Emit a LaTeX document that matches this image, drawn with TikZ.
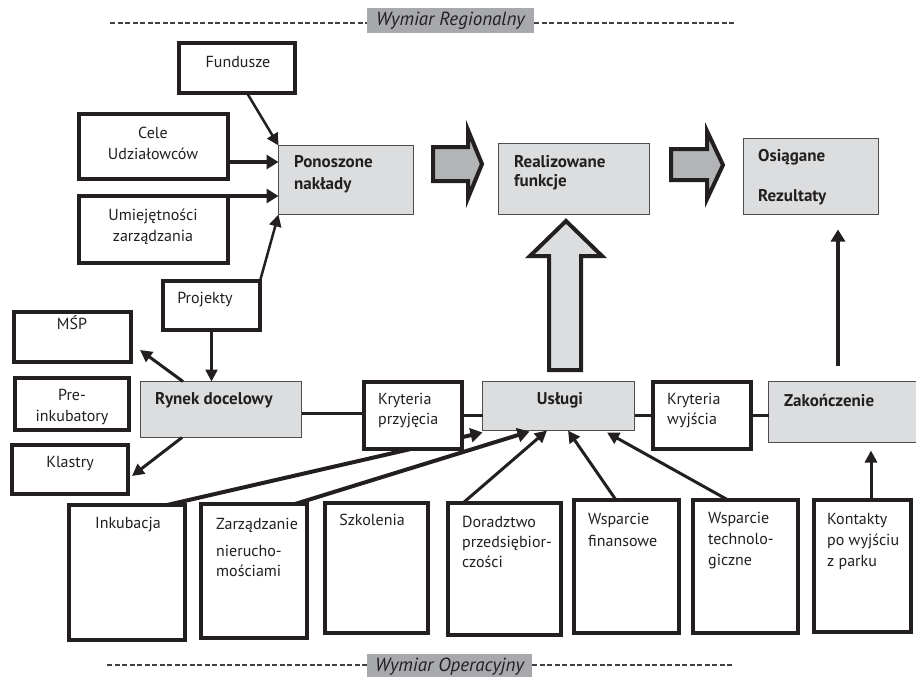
\documentclass[tikz,border=0pt]{standalone}
\usepackage{fontspec}
\setmainfont{PT Sans}
\usetikzlibrary{arrows.meta,calc}
\pgfdeclarelayer{back}
\pgfsetlayers{back,main}

\definecolor{ink}{HTML}{231F20}
\definecolor{boxgray}{HTML}{DCDDDE}
\definecolor{edgegray}{HTML}{4D4D4F}
\definecolor{arrowgray}{HTML}{B3B4B6}
\definecolor{labelgray}{HTML}{A7A9AC}
\definecolor{dashgray}{HTML}{414042}

% white box with heavy frame: outer corners (x1,y1)-(x2,y2)
\newcommand\wbx[5]{\node[wbox, minimum width={#3-#1-4}, minimum height={#4-#2-4}] (#5) at ({(#1+#3)/2},{(#2+#4)/2}) {};}
% grey box with thin frame
\newcommand\gbx[5]{\node[gbox, minimum width={#3-#1-1}, minimum height={#4-#2-1}] (#5) at ({(#1+#3)/2},{(#2+#4)/2}) {};}

\begin{document}
\begin{tikzpicture}[x=1pt,y=-1pt,
  wbox/.style={draw=ink, line width=4pt, fill=white, inner sep=0pt, outer sep=0pt},
  gbox/.style={draw=edgegray, line width=1.3pt, fill=boxgray, inner sep=0pt, outer sep=0pt},
  txt/.style={inner sep=0pt, text=ink, font=\fontsize{16}{21}\selectfont},
  btxt/.style={inner sep=0pt, text=ink, font=\bfseries\fontsize{17}{22}\selectfont},
  arr/.style={draw=ink, line width=2.5pt, -{Triangle[length=12pt,width=12pt]}},
  heavyarr/.style={draw=ink, line width=4.5pt, -{Triangle[length=12pt,width=14pt]}},
  link/.style={draw=ink, line width=3.5pt},
  blockarrow/.style={draw=ink, line width=4pt, line join=miter},
  rule/.style={draw=dashgray, line width=1.4pt, dash pattern=on 5pt off 2.5pt},
  dimlabel/.style={fill=labelgray, text=ink, inner xsep=9pt, inner ysep=4pt,
    font=\itshape\fontsize{19}{21}\selectfont}]
\useasboundingbox (0,0) rectangle (916,677);

% ---- dimension labels ----
\node[dimlabel, minimum width=167pt, minimum height=25pt] (reg) at (450.5,20.5) {Wymiar Regionalny};
\coordinate (regL) at (110,23);
\coordinate (regR) at (734,23);
\draw[rule] (regL) -- (regL -| reg.west);
\draw[rule] (reg.east |- regR) -- (regR);

\node[dimlabel, inner xsep=0pt, minimum width=165pt, minimum height=24pt] (ope) at (449.5,667) {Wymiar Operacyjny};
\coordinate (opeL) at (107,665);
\coordinate (opeR) at (734,665);
\draw[rule] (opeL) -- (opeL -| ope.west);
\draw[rule] (ope.east |- opeR) -- (opeR);

% ---- regional level ----
\wbx{177}{41}{297}{95}{fun}
\wbx{77}{112}{230}{181}{cel}
\wbx{77}{194}{230}{265}{umi}
\gbx{278}{145}{414}{215}{pon}
\wbx{161}{279}{262}{332}{pro}
\gbx{498}{143}{650}{215}{rea}
\gbx{743}{138}{879}{215}{osi}

% ---- market and services ----
\wbx{12}{310}{133}{364}{msp}
\wbx{13}{376}{131}{432}{pre}
\wbx{10}{443}{130}{496}{kla}
\gbx{140}{381}{302}{438}{ryn}
\gbx{482}{381}{635}{431}{usl}
\gbx{768}{381}{920}{443}{zak}

% ---- operational level ----
\wbx{67}{503}{187}{642}{ink}
\wbx{199}{502}{309}{640}{zar}
\wbx{323}{501}{430}{635}{szk}
\wbx{446}{501}{563}{637}{dor}
\wbx{572}{498}{681}{635}{fin}
\wbx{691}{498}{800}{635}{tec}
\wbx{812}{498}{913}{634}{kon}

% connector from Inkubacja passes behind the admission-criteria box
\begin{pgfonlayer}{back}
\draw[heavyarr, line width=4pt] ([xshift=40pt]ink.north) -- ([yshift=-2pt]usl.south west);
\end{pgfonlayer}

\wbx{362}{380}{464}{451}{kp}
\wbx{651}{380}{753}{451}{kw}

% ---- big flow arrows ----
\draw[blockarrow, fill=arrowgray] (433,147) -- (468,147) -- (468,130) -- (482,164) -- (468,198) -- (468,181) -- (433,181) -- cycle;
\draw[blockarrow, fill=arrowgray] (671,149) -- (707,149) -- (707,131) -- (723,165) -- (707,199) -- (707,180) -- (671,180) -- cycle;
\draw[blockarrow, fill=boxgray] (549,370) -- (549,256) -- (530,256) -- (566,221) -- (602,256) -- (581,256) -- (581,370) -- cycle;

% ---- texts ----
\node[txt] (t-fun) at (238,62) {Fundusze};
\node[txt, align=center] (t-cel) at (153,143) {Cele\\Udziałowców};
\node[txt, align=center] (t-umi) at (153,227) {Umiejętności\\zarządzania};
\node[btxt, align=left, anchor=west] (t-pon) at (294,174) {Ponoszone\\nakłady};
\node[txt] (t-pro) at (205,300) {Projekty};
\node[btxt, align=left, anchor=west, font=\bfseries\fontsize{17}{19}\selectfont] (t-rea) at (514,173) {Realizowane\\funkcje};
\node[btxt, align=left, anchor=west] (t-osi) at (758,177) {Osiągane\\[18pt]Rezultaty};

\node[txt] (t-msp) at (72,323) {MŚP};
\node[txt, align=center] (t-pre) at (72,407) {Pre-\\inkubatory};
\node[txt] (t-kla) at (70,464) {Klastry};
\node[btxt, anchor=west] (t-ryn) at (155,400) {Rynek docelowy};
\node[txt, align=left, anchor=west, font=\fontsize{16}{20}\selectfont] (t-kp) at (378,411) {Kryteria\\przyjęcia};
\node[btxt] (t-usl) at (560,400) {Usługi};
\node[txt, align=left, anchor=west, font=\fontsize{16}{20}\selectfont] (t-kw) at (667,411) {Kryteria\\wyjścia};
\node[btxt, anchor=west] (t-zak) at (784,400) {Zakończenie};

\node[txt] (t-ink) at (128,525) {Inkubacja};
\node[txt, align=left, anchor=west, font=\fontsize{16}{20}\selectfont] (t-zar) at (216,547) {Zarządzanie\\[7pt]nierucho-\\mościami};
\node[txt] (t-szk) at (372,520) {Szkolenia};
\node[txt, align=left, anchor=west, font=\fontsize{16}{20}\selectfont] (t-dor) at (462,542) {Doradztwo\\przedsiębior-\\czości};
\node[txt, align=left, anchor=west, font=\fontsize{16}{22}\selectfont] (t-fin) at (588,530) {Wsparcie\\finansowe};
\node[txt, align=left, anchor=west] (t-tec) at (708,541) {Wsparcie\\technolo-\\giczne};
\node[txt, align=left, anchor=west] (t-kon) at (827,541) {Kontakty\\po wyjściu\\z parku};

% ---- inputs to the incurred outlays ----
\draw[arr] ([xshift=10pt]fun.south) -- (pon.north west);
\draw[heavyarr] ([yshift=-15.5pt]cel.east) coordinate (c1) -- (c1 -| pon.west);
\draw[heavyarr] (umi.north east) -- (umi.north east -| pon.west);
\draw[arr] (pro.north east) -- (pon.south west);

% ---- target market ----
\draw[arr] (pro.south) -- (pro.south |- ryn.north);
\draw[arr, line width=3pt] ([xshift=-38pt]ryn.north) -- ([shift={(9pt,12pt)}]msp.south east);
\draw[arr, line width=3pt] ([xshift=-39pt]ryn.south) -- ([shift={(4pt,-6.5pt)}]kla.east);

% ---- chain of criteria ----
\draw[link, line width=3pt] ([yshift=-3.5pt]ryn.east) coordinate (r1) -- (r1 -| kp.west);
\draw[link] (kp.east) -- (kp.east -| usl.west);
\draw[link] (kw.west -| usl.east) -- (kw.west);
\draw[link] (kw.east) -- (kw.east -| zak.west);

% ---- services feeding the service box ----
\draw[heavyarr, line width=4pt] ([xshift=41pt]zar.north) -- ([shift={(-29pt,-1pt)}]usl.south);
\draw[arr, line width=3pt] ([xshift=-41.5pt]dor.north) -- ([xshift=-11.5pt]usl.south);
\draw[arr, line width=3pt] ([xshift=-10.5pt]fin.north) -- ([xshift=9.5pt]usl.south);
\draw[arr, line width=3pt] ([xshift=-17.5pt]tec.north) -- ([shift={(48.5pt,-2pt)}]usl.south);

% ---- exit and results ----
\draw[arr, line width=3pt, shorten >=8pt] ([xshift=8.5pt]kon.north) -- ([xshift=8.5pt]kon.north |- zak.south);
\draw[heavyarr, line width=3.5pt, shorten >=15pt] ([shift={(-6pt,16pt)}]zak.north) coordinate (z1) -- (z1 |- osi.south);
\end{tikzpicture}
\end{document}
